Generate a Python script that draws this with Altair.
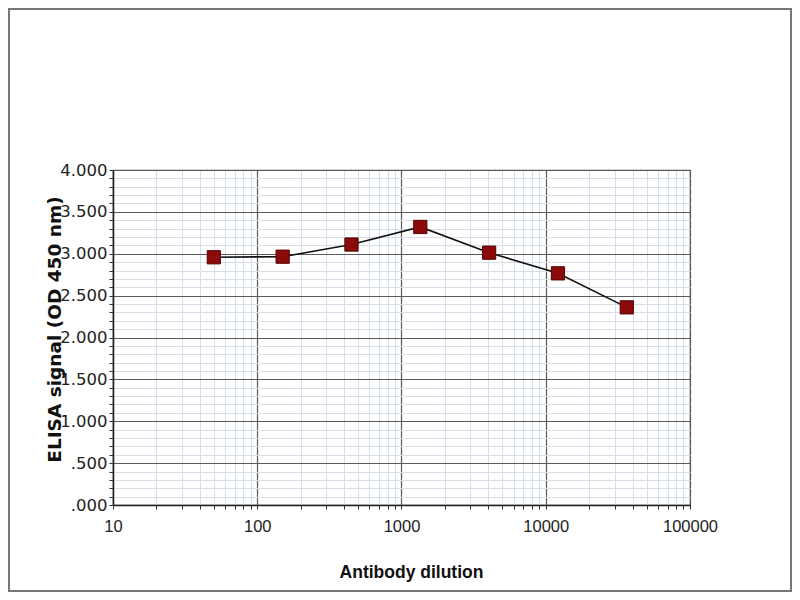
import altair as alt
import pandas as pd

dilution = [50, 150, 450, 1350, 4050, 12150, 36450]
signal = [2.958, 2.965, 3.11, 3.32, 3.013, 2.766, 2.36]

x_ticks = [m * 10 ** e for e in range(1, 5) for m in range(1, 10)] + [100000]
y_ticks = [round(i * 0.1, 1) for i in range(0, 41)]

x_title = "Antibody dilution"
y_title = "ELISA  signal (OD 450 nm)"

df = pd.DataFrame({"dilution": dilution, "signal": signal})

W, H = 577, 335
PL, PT = 105, 162
PR = 784 - PL - W
PB = 584 - PT - H

major_x = "abs(log(datum.value)/LN10 - round(log(datum.value)/LN10)) < 1e-6"
major_y = "abs(datum.value*2 - round(datum.value*2)) < 1e-6"

x_scale = alt.Scale(type="log", domain=[10, 100000], nice=False)
y_scale = alt.Scale(domain=[0, 4], nice=False, zero=True)

x_axis = alt.Axis(
    values=x_ticks,
    labelExpr=f"{major_x} ? format(datum.value, '.0f') : ''",
    labelOverlap=False, labelFlush=False, labelBound=False,
    labelFont="Liberation Sans", labelFontSize=16.5, labelColor="#222222",
    labelPadding=9, tickSize=4, tickColor="#333333", tickWidth=1,
    domainColor="#222222", domainWidth=1.5,
    grid=True,
    gridColor={"condition": {"test": major_x, "value": "#5a5a5a"}, "value": "#d3e0ec"},
    gridWidth={"condition": {"test": major_x, "value": 1.2}, "value": 1},
    title=x_title, titleFont="Liberation Sans", titleFontSize=17.5, titleFontWeight="bold",
    titleColor="#111111", titleX=298, titleY=72.5, titleBaseline="alphabetic", titleAlign="center",
)

y_axis = alt.Axis(
    values=y_ticks,
    labelExpr=f"{major_y} ? (datum.value < 0.999 ? replace(format(datum.value, '.3f'), '0.', '.') : format(datum.value, '.3f')) : ''",
    labelOverlap=False, labelFlush=False, labelBound=False,
    labelFont="DejaVu Sans", labelFontSize=16.5, labelColor="#222222",
    labelPadding=2, tickSize=4, tickColor="#333333", tickWidth=1,
    domainColor="#222222", domainWidth=1.5,
    grid=True,
    gridColor={"condition": {"test": major_y, "value": "#5a5a5a"}, "value": "#d6dfe8"},
    gridWidth={"condition": {"test": major_y, "value": 1.2}, "value": 1},
    title=y_title, titleFont="DejaVu Sans", titleFontSize=18.5, titleFontWeight="bold",
    titleColor="#111111", titleX=-53, titleY=159, titleAngle=270,
    titleBaseline="alphabetic", titleAlign="center",
)

base = alt.Chart(df).encode(
    x=alt.X("dilution:Q", scale=x_scale, axis=x_axis),
    y=alt.Y("signal:Q", scale=y_scale, axis=y_axis),
)

line = base.mark_line(color="#111111", strokeWidth=1.6)
points = base.mark_square(size=175, color="#8b0a0a", stroke="#5a0000", strokeWidth=1, opacity=1, filled=True)

frame = alt.Chart(alt.Data(values=[{"a": 1}])).mark_rect(
    fill=None, stroke="#777777", strokeWidth=2
).encode(
    x=alt.value(-PL + 1), x2=alt.value(W + PR - 1),
    y=alt.value(-PT + 1), y2=alt.value(H + PB - 1),
)

chart = alt.layer(line, points, frame).properties(
    width=W, height=H,
    padding={"left": PL, "top": PT, "right": PR, "bottom": PB},
    autosize=alt.AutoSizeParams(type="none"),
    background="white",
).configure_view(stroke="#5a5a5a", strokeWidth=1.2)

chart.save("out.html", embed_options={"renderer": "svg", "actions": False})
